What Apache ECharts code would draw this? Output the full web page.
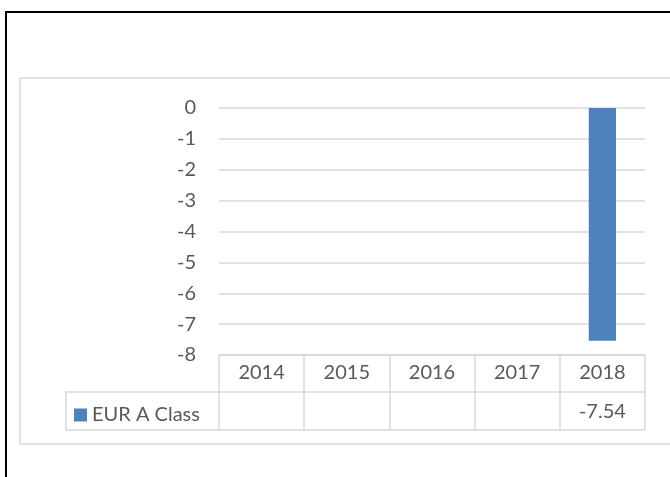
<!DOCTYPE html>
<html>
<head>
<meta charset="utf-8">
<script src="https://cdn.jsdelivr.net/npm/echarts@6/dist/echarts.min.js"></script>
<style>
html, body { margin: 0; padding: 0; background: #fff; }
#chart { width: 670px; height: 477px; }
</style>
</head>
<body>
<div id="chart"></div>
<script>
const years = ['2014', '2015', '2016', '2017', '2018'];
const eurAClass = [null, null, null, null, -7.54];
const seriesName = 'EUR A Class';

const textColor = '#595959';
const lineColor = '#d9d9d9';
const font = 'Lato';

let chart = echarts.init(document.getElementById('chart'));

let option = {
  animation: false,
  textStyle: { fontFamily: font },
  grid: {
    left: 219,
    right: 25,
    top: 108,
    bottom: 122
  },
  legend: {
    data: [seriesName],
    left: 69,
    top: 400,
    icon: 'rect',
    itemWidth: 13,
    itemHeight: 13,
    itemGap: 6,
    textStyle: { color: textColor, fontSize: 20, fontFamily: font }
  },
  xAxis: [
    {
      type: 'category',
      data: years,
      position: 'bottom',
      axisLine: { show: true, onZero: false, lineStyle: { color: lineColor, width: 1.5 } },
      axisTick: { show: true, length: 37, lineStyle: { color: lineColor, width: 1.5 } },
      axisLabel: { color: textColor, fontSize: 20, margin: 8 }
    },
    {
      // data row of the table, values shown as labels
      type: 'category',
      data: years,
      position: 'bottom',
      offset: 37,
      axisLine: { show: true, onZero: false, lineStyle: { color: lineColor, width: 1.5 } },
      axisTick: { show: true, length: 38, lineStyle: { color: lineColor, width: 1.5 } },
      axisLabel: {
        color: textColor,
        fontSize: 20,
        margin: 10,
        formatter: (v, i) => eurAClass[i] == null ? '' : eurAClass[i].toFixed(2)
      }
    }
  ],
  yAxis: {
    type: 'value',
    min: -8,
    max: 0,
    interval: 1,
    axisLine: { show: false },
    axisTick: { show: false },
    axisLabel: { color: textColor, fontSize: 20, margin: 23 },
    splitLine: { lineStyle: { color: lineColor, width: 1.5 } }
  },
  series: [
    {
      name: seriesName,
      type: 'bar',
      barWidth: '32%',
      itemStyle: { color: '#4f81bd' },
      data: eurAClass
    }
  ],
  graphic: [
    {
      type: 'rect',
      shape: { x: 6, y: 12, width: 700, height: 500 },
      style: { fill: 'none', stroke: '#000', lineWidth: 2 },
      silent: true
    },
    {
      type: 'rect',
      shape: { x: 20, y: 78, width: 700, height: 366 },
      style: { fill: 'none', stroke: lineColor, lineWidth: 1.5 },
      silent: true
    },
    {
      type: 'polyline',
      shape: { points: [[219, 392], [66, 392], [66, 430], [645, 430]] },
      style: { fill: 'none', stroke: lineColor, lineWidth: 1.5 },
      silent: true
    }
  ]
};

chart.setOption(option);
</script>
</body>
</html>
